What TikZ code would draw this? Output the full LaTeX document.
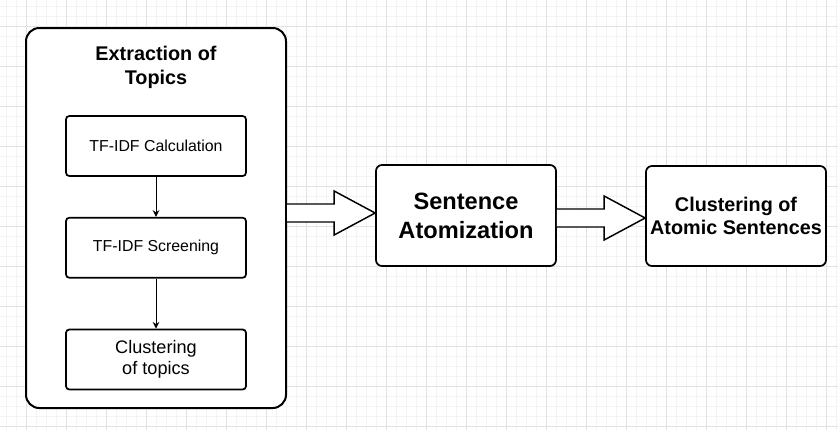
\documentclass[tikz,border=0pt]{standalone}
\usepackage{fontspec}
\setmainfont{Liberation Sans}
\usetikzlibrary{arrows.meta,positioning,calc}
\definecolor{gridminor}{RGB}{244,244,244}
\definecolor{gridmajor}{RGB}{226,226,226}

% hollow block arrow from the east side of a node to a tip coordinate
\newcommand{\fatarrow}[2]{%
  \draw[fat] ($(#1.east |- #2)+(0,-9)$) -- ($(#2)+(-41,-9)$) -- ($(#2)+(-41,-22)$)
    -- (#2) -- ($(#2)+(-41,22)$) -- ($(#2)+(-41,9)$) -- ($(#1.east |- #2)+(0,9)$);}

\begin{document}
\begin{tikzpicture}[x=0.75pt,y=-0.75pt,>={Stealth[length=5pt,width=5pt]},node distance=30pt]
  \tikzstyle{box}=[draw,fill=white,line width=1.3pt,rounded corners=2.5pt,minimum width=135pt,minimum height=45pt,align=center,font=\fontsize{11.9}{15.75}\selectfont]
  \tikzstyle{bigbox}=[box,inner sep=2pt,rounded corners=4.5pt,minimum height=75pt,font=\fontsize{14.85}{17.25}\selectfont\bfseries]
  \tikzstyle{fat}=[line width=1.1pt,line join=miter,fill=white]
  \useasboundingbox (0,0) rectangle (838,430);
  % background grid
  \foreach \g in {6,16,...,836} \draw[gridminor,line width=0.75pt] (\g,0) -- (\g,430);
  \foreach \g in {6,16,...,426} \draw[gridminor,line width=0.75pt] (0,\g) -- (838,\g);
  \foreach \g in {26,66,...,826} \draw[gridmajor,line width=0.75pt] (\g,0) -- (\g,430);
  \foreach \g in {26,66,...,426} \draw[gridmajor,line width=0.75pt] (0,\g) -- (838,\g);
  % topic extraction group
  \node[box,line width=1.5pt,rounded corners=10pt,minimum width=195pt,minimum height=285pt] (topics) at (156,218) {};
  \node[font=\fontsize{14.85}{18}\selectfont\bfseries,align=center] (title) at (156,67) {Extraction of\\Topics};
  \node[box] (calc) at (156,146) {TF-IDF Calculation};
  \node[box,below=of calc] (screen) {TF-IDF Screening};
  \node[box,below=37.5pt of screen,font=\fontsize{13.6}{15.75}\selectfont] (clus) {Clustering\\of topics};
  \draw[->,line width=0.75pt] (calc) -- (screen);
  \draw[->,line width=0.75pt] (screen) -- (clus);
  % later stages
  \node[bigbox,minimum height=75.75pt,font=\fontsize{17.7}{21.75}\selectfont\bfseries] (sa) at (466,215.5) {Sentence\\Atomization};
  \node[bigbox] (cas) at (736,216) {Clustering of\\Atomic Sentences};
  \coordinate (tip1) at ($(sa.west)+(0,-2.5)$);
  \coordinate (tip2) at ($(cas.west)+(0,2)$);
  \fatarrow{topics}{tip1}
  \fatarrow{sa}{tip2}
\end{tikzpicture}
\end{document}
